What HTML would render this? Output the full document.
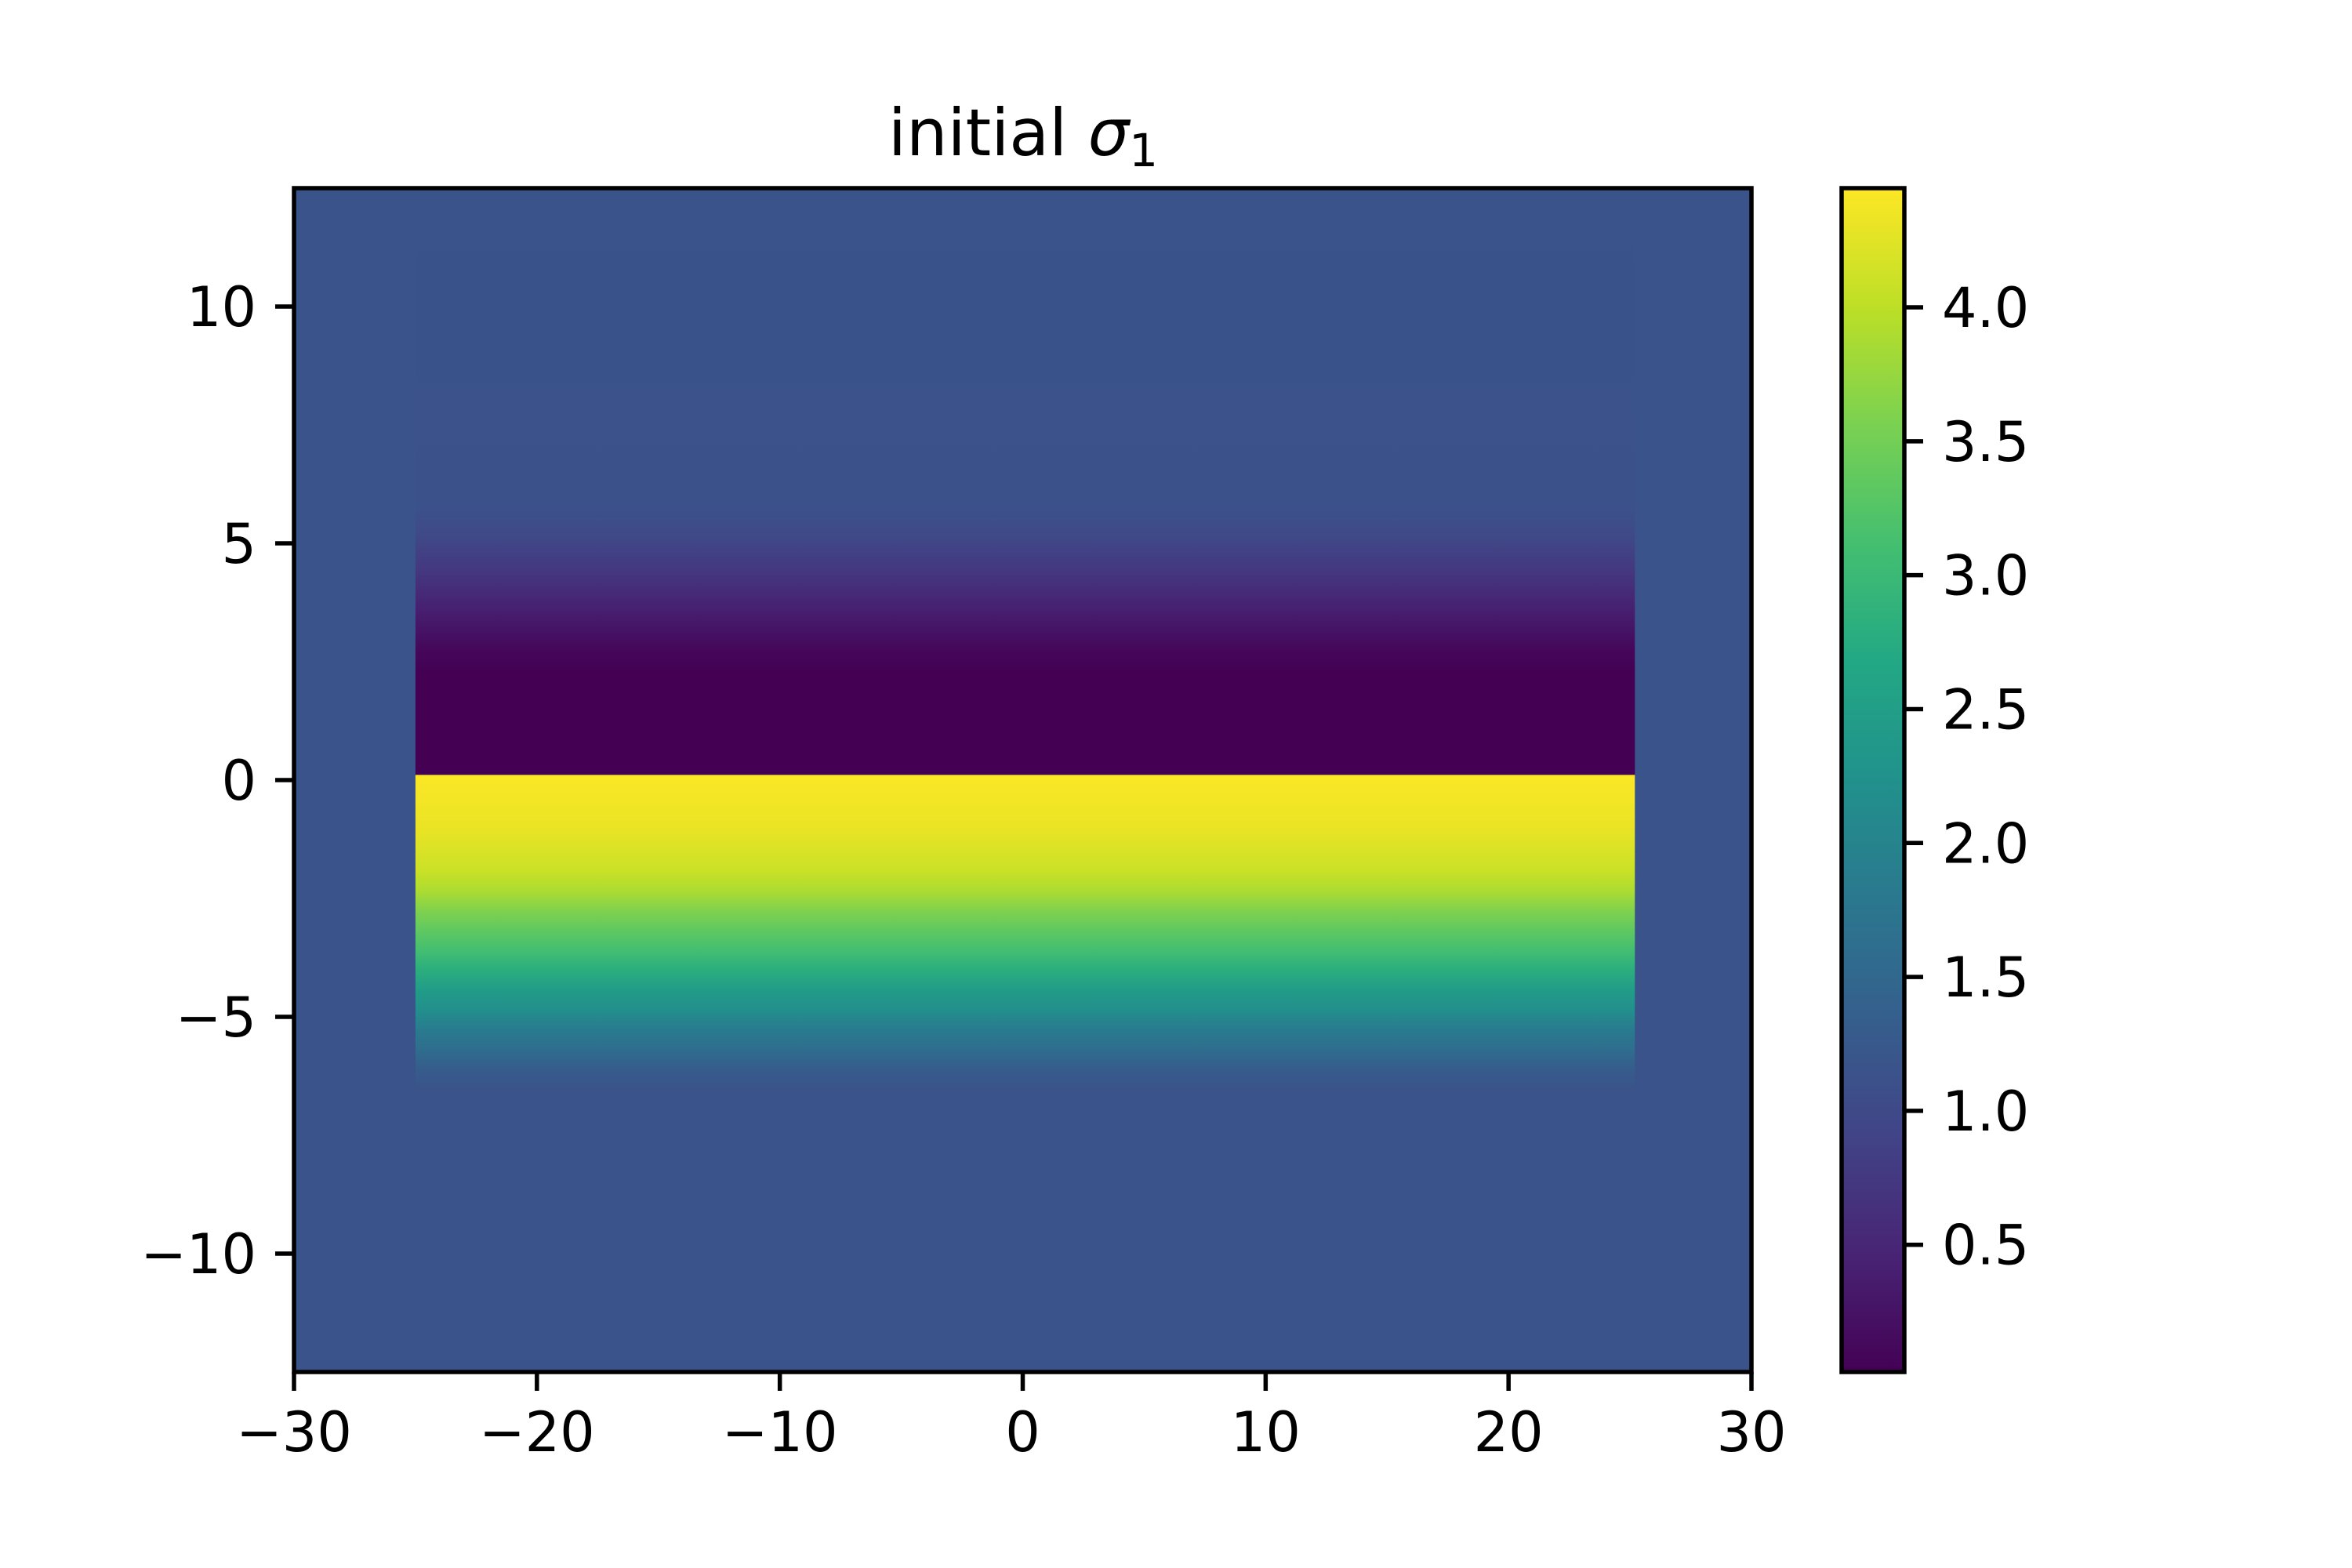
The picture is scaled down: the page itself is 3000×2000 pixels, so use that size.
<!DOCTYPE html>
<html><head><meta charset="utf-8"><style>
html,body{margin:0;padding:0;background:#fff;}
svg{display:block;font-family:"DejaVu Sans","Liberation Sans",sans-serif;}
</style></head><body>
<svg id="chart" width="3000" height="2000" viewBox="0 0 3000 2000" xmlns="http://www.w3.org/2000/svg">
<defs id="defs"></defs>
<g id="plot"></g>
<g id="cbar"></g>
<text x="1305" y="198" font-size="83" text-anchor="middle">initial <tspan font-style="italic">σ</tspan><tspan font-size="58" dy="14">1</tspan></text>
</svg>
<script>
// data
const xTicks = [-30, -20, -10, 0, 10, 20, 30];
const yTicks = [-10, -5, 0, 5, 10];
const cbarTicks = [0.5, 1.0, 1.5, 2.0, 2.5, 3.0, 3.5, 4.0];
const xDomain = [-30, 30];
const yDomain = [-12.5, 12.5];
const cDomain = [0.025, 4.445];
const bandX = [-25, 25.2];
const backgroundValue = 1.15;
const profileY = [12.5, 5.8, 5.2, 4.43, 3.58, 2.74, 2.3, 0.12, 0.1, -1.06, -1.9, -2.33, -2.75, -3.17, -3.6, -4.0, -4.44, -4.86, -5.28, -5.7, -6.1, -6.55, -12.5];
const profileVal = [1.15, 1.12, 1.0, 0.75, 0.4, 0.1, 0.03, 0.03, 4.43, 4.3, 4.1, 3.9, 3.6, 3.35, 3.1, 2.8, 2.45, 2.2, 1.85, 1.6, 1.3, 1.15, 1.15];

const viridis = ["#440154","#482475","#414487","#355f8d","#2a788e","#21918c","#22a884","#44bf70","#7ad151","#bddf26","#fde725"];
function hex(c){return [parseInt(c.slice(1,3),16),parseInt(c.slice(3,5),16),parseInt(c.slice(5,7),16)];}
function cmap(v){
  let t=(v-cDomain[0])/(cDomain[1]-cDomain[0]); t=Math.max(0,Math.min(1,t));
  const p=t*(viridis.length-1), i=Math.min(Math.floor(p),viridis.length-2), f=p-i;
  const a=hex(viridis[i]), b=hex(viridis[i+1]);
  return "rgb("+a.map((x,k)=>Math.round(x+(b[k]-x)*f)).join(",")+")";
}
const L=375,R=2234,T=240,B=1750;
const sx=x=>L+(x-xDomain[0])/(xDomain[1]-xDomain[0])*(R-L);
const sy=y=>B-(y-yDomain[0])/(yDomain[1]-yDomain[0])*(B-T);
const CL=2349,CR=2429;
const sc=v=>B-(v-cDomain[0])/(cDomain[1]-cDomain[0])*(B-T);
const NS="http://www.w3.org/2000/svg";
function mk(tag,attrs,parent){const e=document.createElementNS(NS,tag);for(const k in attrs)e.setAttribute(k,attrs[k]);parent.appendChild(e);return e;}
const defs=document.getElementById('defs'), plot=document.getElementById('plot'), cb=document.getElementById('cbar');

const bg=mk('rect',{x:L,y:T,width:R-L,height:B-T,fill:cmap(backgroundValue)},plot);


const g=mk('linearGradient',{id:'bandGrad',x1:0,y1:0,x2:0,y2:1,gradientUnits:'objectBoundingBox'},defs);
profileY.forEach((y,i)=>{mk('stop',{offset:(sy(y)-T)/(B-T),'stop-color':cmap(profileVal[i])},g);});
const band=mk('rect',{x:sx(bandX[0]),y:T,width:sx(bandX[1])-sx(bandX[0]),height:B-T,fill:'url(#bandGrad)'},plot);


const frame=mk('rect',{x:L,y:T,width:R-L,height:B-T,fill:'none',stroke:'#000','stroke-width':5.5},plot);


const fmt=v=>(v<0?'\u2212':'')+Math.abs(v);
xTicks.forEach(v=>{
  const x=sx(v);
  const t=mk('line',{x1:x,x2:x,y1:B,y2:B+24,stroke:'#000','stroke-width':5.5},plot);
  
  
  const l=mk('text',{x:x,y:1851,'font-size':70,'text-anchor':'middle'},plot);
  l.textContent=fmt(v);
  
  
});
yTicks.forEach(v=>{
  const y=sy(v);
  const t=mk('line',{x1:L-24,x2:L,y1:y,y2:y,stroke:'#000','stroke-width':5.5},plot);
  
  
  const l=mk('text',{x:327,y:y+25,'font-size':70,'text-anchor':'end'},plot);
  l.textContent=fmt(v);
  
  
});
const cg=mk('linearGradient',{id:'cbGrad',x1:0,y1:1,x2:0,y2:0},defs);
viridis.forEach((c,i)=>mk('stop',{offset:i/(viridis.length-1),'stop-color':c},cg));
const cr=mk('rect',{x:CL,y:T,width:CR-CL,height:B-T,fill:'url(#cbGrad)',stroke:'#000','stroke-width':5.5},cb);


cbarTicks.forEach(v=>{
  const y=sc(v);
  const t=mk('line',{x1:CR,x2:CR+24,y1:y,y2:y,stroke:'#000','stroke-width':5.5},cb);
  
  
  const l=mk('text',{x:2477,y:y+25,'font-size':70},cb);
  l.textContent=v.toFixed(1);
  
  
});
</script>
</body></html>
